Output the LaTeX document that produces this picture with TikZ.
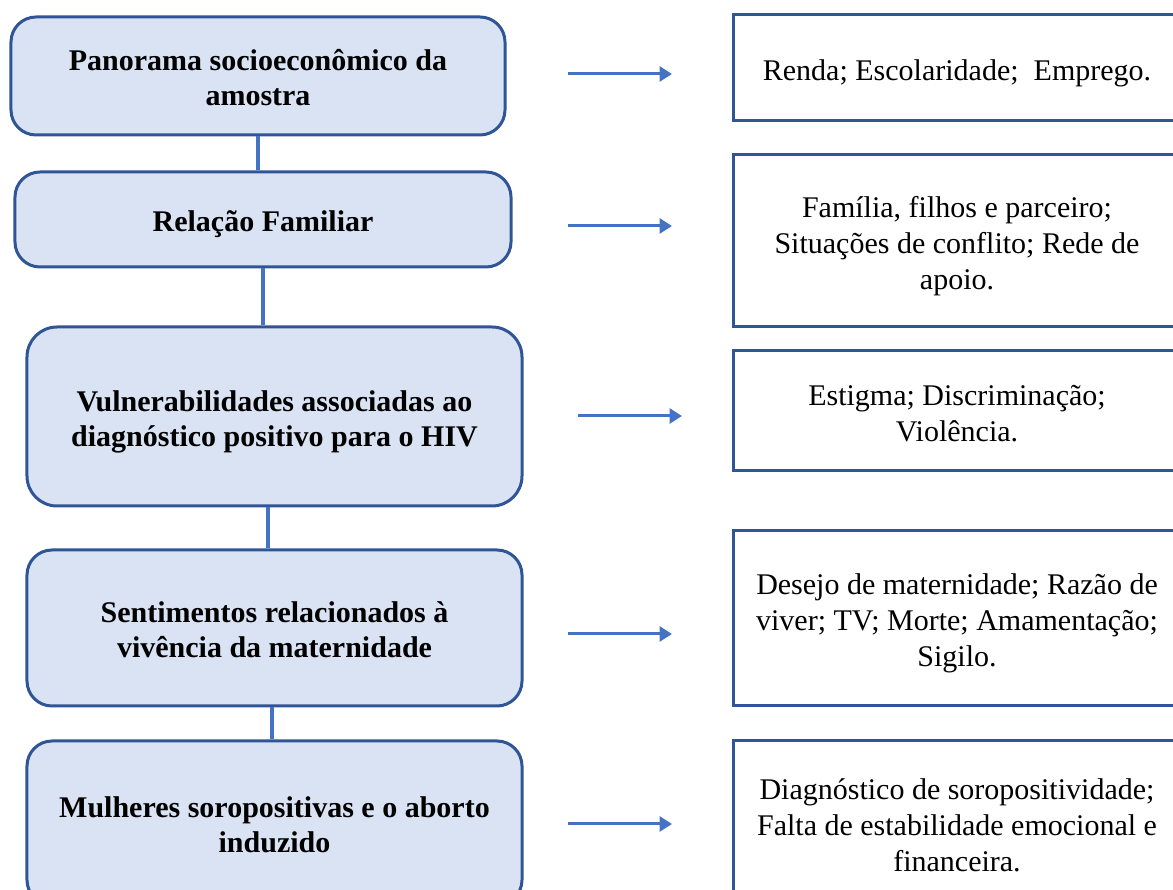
\documentclass[tikz,border=0pt]{standalone}
\usepackage{fontspec}
\setmainfont{Liberation Serif}
\usetikzlibrary{arrows.meta}
\definecolor{themefill}{HTML}{DAE3F3}
\definecolor{themeline}{HTML}{2F5597}
\definecolor{linkblue}{HTML}{4472C4}
\newcommand{\topgap}{\rule{0pt}{12.5pt}}
\newcommand{\bottomgap}{\rule[-2.5pt]{0pt}{0pt}}
\tikzset{
  themebox/.style={draw=themeline, line width=1.2pt, fill=themefill, rounded corners=10pt,
    align=center, inner sep=0pt, font=\fontsize{12}{14}\selectfont\bfseries},
  detailbox/.style={draw=themeline, line width=1.2pt, fill=white,
    align=center, inner sep=0pt, font=\fontsize{12}{14.4}\selectfont},
  link/.style={draw=linkblue, line width=1.6pt},
  pointer/.style={draw=linkblue, line width=1.2pt, -{Triangle[length=5pt,width=6pt]}},
}
\begin{document}
\begin{tikzpicture}[x=0.4pt, y=-0.4pt]
\useasboundingbox (0,0) rectangle (1173,890);
\clip (0,0) rectangle (1173,890);

% Theme boxes (left column)
\node [themebox, minimum width=197.6pt, minimum height=47.2pt] (panorama) at (258,76)
  {\topgap Panorama socioeconômico da\\amostra\bottomgap};
\node [themebox, minimum width=198.4pt, minimum height=38pt] (familia) at (263,219.5)
  {\topgap Relação Familiar\bottomgap};
\node [themebox, minimum width=198pt, minimum height=71.6pt, rounded corners=12pt] (vulner) at (274.5,416.5)
  {\topgap Vulnerabilidades associadas ao\\diagnóstico positivo para o HIV\bottomgap};
\node [themebox, minimum width=198pt, minimum height=62.4pt] (sentim) at (274.5,628)
  {\topgap Sentimentos relacionados à\\vivência da maternidade\bottomgap};
\node [themebox, minimum width=198pt, minimum height=65.6pt] (aborto) at (274.5,823)
  {\topgap Mulheres soropositivas e o aborto\\induzido\bottomgap};

% Links between themes
\draw [link] (panorama.south) -- (panorama.south |- familia.north);
\draw [link] (familia.south) -- (familia.south |- vulner.north);
\draw [link] ([xshift=-2.6pt]vulner.south) -- ([xshift=-2.6pt]vulner.south |- sentim.north);
\draw [link] ([xshift=-1.2pt]sentim.south) -- ([xshift=-1.2pt]sentim.south |- aborto.north);

% Detail boxes (right column)
\node [detailbox, minimum width=179.2pt, minimum height=42.4pt] (renda) at (957,68)
  {\topgap Renda; Escolaridade;\ \ Emprego.\bottomgap};
\node [detailbox, minimum width=179.2pt, minimum height=68.8pt] (rede) at (957,241)
  {\topgap Família, filhos e parceiro;\\Situações de conflito; Rede de\\apoio.\bottomgap};
\node [detailbox, minimum width=179.2pt, minimum height=48pt] (estigma) at (957,411)
  {\topgap Estigma; Discriminação;\\Violência.\bottomgap};
\node [detailbox, minimum width=179.2pt, minimum height=70pt] (desejo) at (957,618.5)
  {\topgap Desejo de maternidade; Razão de\\viver; TV; Morte; Amamentação;\\Sigilo.\bottomgap};
\node [detailbox, minimum width=179.2pt, minimum height=65.6pt] (diagn) at (957,823)
  {\topgap Diagnóstico de soropositividade;\\Falta de estabilidade emocional e\\financeira.\bottomgap};

% Pointers from themes to details
\foreach \i/\xs/\ys in {1/568/74, 2/568/226, 3/578/416, 4/568/634, 5/568/824} {
  \coordinate (tail\i) at (\xs,\ys);
  \coordinate (head\i) at (\xs+104,\ys);
  \draw [pointer] (tail\i) -- (head\i);
}
\end{tikzpicture}
\end{document}
